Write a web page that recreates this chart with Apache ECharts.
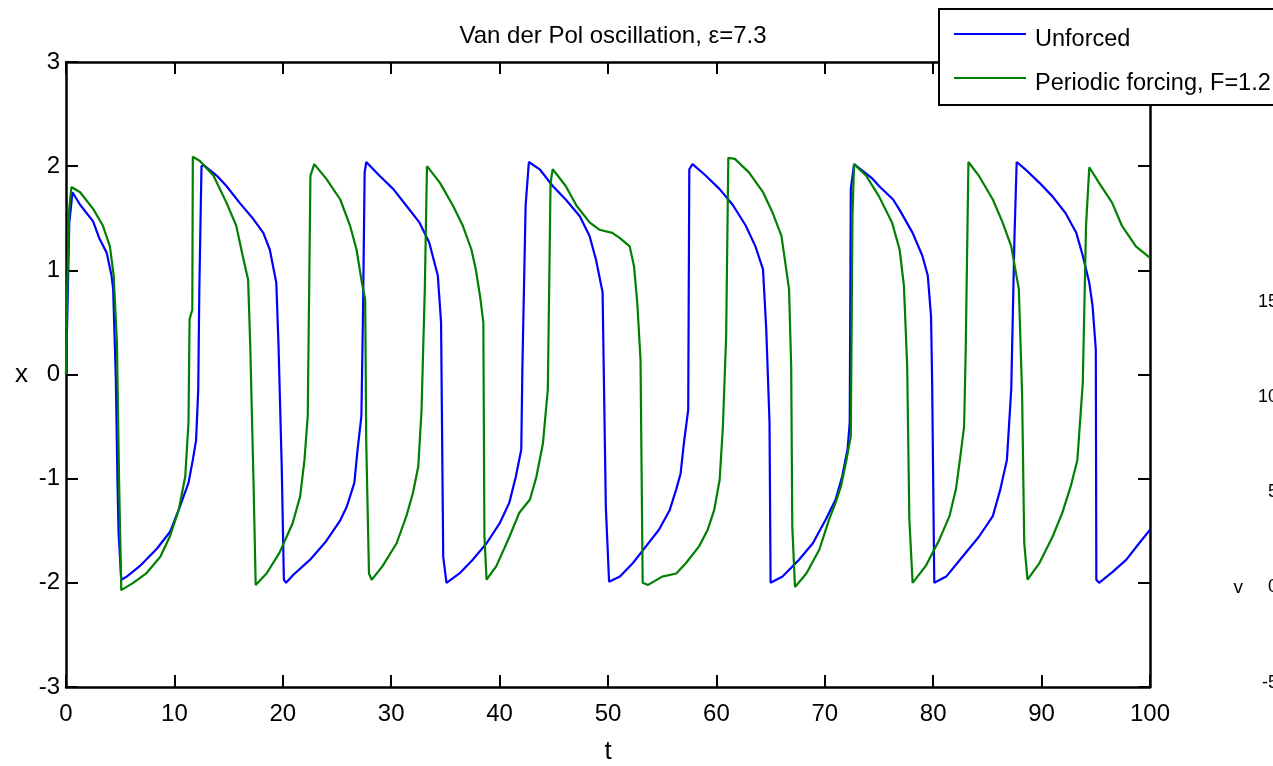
<!DOCTYPE html>
<html>
<head>
<meta charset="utf-8">
<title>Van der Pol oscillation</title>
<script src="https://cdn.jsdelivr.net/npm/echarts@6/dist/echarts.min.js"></script>
<style>
    html, body { margin: 0; padding: 0; background: #fff; }
    #main { width: 1273px; height: 766px; }
</style>
</head>
<body>
<div id="main"></div>
<script>
// unforced oscillator
var tUnforced = [0, 0.15, 0.3, 0.6, 1.3, 2.5, 3.1, 3.75, 4.2, 4.35, 4.6, 4.75, 4.85, 5.1, 5.6, 6.8, 8.4, 9.6, 10.5, 11.3, 11.7, 12.0, 12.2, 12.3, 12.5, 12.7, 13.9, 14.8, 16.0, 17.3, 18.2, 18.8, 19.4, 19.6, 19.9, 20.1, 20.3, 21.0, 22.5, 24.0, 25.3, 25.9, 26.6, 26.9, 27.25, 27.4, 27.55, 27.7, 28.9, 30.2, 31.4, 32.6, 33.5, 34.3, 34.6, 34.8, 35.1, 36.3, 37.5, 38.8, 40.0, 40.9, 41.5, 42.0, 42.1, 42.4, 42.7, 43.7, 44.9, 46.1, 47.4, 48.3, 48.9, 49.5, 49.8, 50.1, 51.1, 52.3, 53.5, 54.7, 55.7, 56.3, 56.7, 57.0, 57.4, 57.5, 57.8, 59.0, 60.3, 61.5, 62.7, 63.6, 64.3, 64.6, 64.9, 65.0, 66.1, 67.6, 68.9, 70.1, 71.0, 71.6, 72.1, 72.3, 72.4, 72.7, 74.4, 75.0, 76.3, 76.9, 78.1, 79.0, 79.5, 79.8, 79.9, 80.1, 81.2, 82.7, 84.2, 85.5, 86.2, 86.8, 87.2, 87.5, 87.7, 88.5, 89.8, 91.0, 92.2, 93.2, 93.8, 94.4, 94.7, 95.0, 95.05, 95.3, 96.5, 97.8, 99.0, 100];
var xUnforced = [0, 0.7, 1.45, 1.75, 1.63, 1.47, 1.30, 1.17, 0.95, 0.82, -0.05, -1.04, -1.52, -1.97, -1.94, -1.84, -1.67, -1.51, -1.27, -1.04, -0.82, -0.63, -0.14, 0.82, 2.0, 2.01, 1.91, 1.81, 1.65, 1.49, 1.36, 1.2, 0.88, 0.3, -0.88, -1.97, -2.0, -1.92, -1.78, -1.6, -1.4, -1.27, -1.04, -0.72, -0.4, 0.6, 1.94, 2.04, 1.91, 1.78, 1.62, 1.46, 1.27, 0.95, 0.5, -1.75, -2.0, -1.91, -1.78, -1.62, -1.43, -1.23, -0.98, -0.72, 0.05, 1.62, 2.04, 1.97, 1.81, 1.68, 1.52, 1.33, 1.1, 0.79, -1.27, -1.99, -1.94, -1.81, -1.65, -1.49, -1.3, -1.1, -0.95, -0.66, -0.34, 1.97, 2.02, 1.91, 1.78, 1.63, 1.43, 1.23, 1.01, 0.43, -0.46, -2.0, -1.94, -1.78, -1.62, -1.39, -1.2, -0.98, -0.72, -0.46, 1.78, 2.02, 1.88, 1.81, 1.68, 1.58, 1.36, 1.14, 0.95, 0.56, -0.05, -2.0, -1.94, -1.75, -1.56, -1.36, -1.1, -0.82, -0.14, 1.33, 2.04, 1.97, 1.84, 1.71, 1.55, 1.36, 1.14, 0.88, 0.66, 0.24, -1.97, -2.0, -1.9, -1.78, -1.62, -1.49];

// periodic forcing, F=1.2
var tForced = [0, 0.1, 0.3, 0.5, 1.3, 2.5, 3.4, 4.05, 4.4, 4.7, 4.9, 5.1, 6.2, 7.4, 8.7, 9.6, 10.4, 11.0, 11.3, 11.4, 11.65, 11.7, 12.35, 13.6, 14.8, 15.7, 16.3, 16.8, 17.0, 17.3, 17.5, 18.5, 19.7, 20.9, 21.6, 22.0, 22.3, 22.55, 22.9, 24.0, 25.3, 26.2, 26.8, 27.25, 27.6, 27.7, 27.95, 28.2, 29.2, 30.5, 31.4, 32.0, 32.5, 32.8, 33.1, 33.3, 34.5, 35.7, 36.6, 37.4, 37.8, 38.2, 38.5, 38.6, 38.8, 39.7, 40.9, 41.8, 42.8, 43.4, 44.0, 44.45, 44.7, 44.9, 46.1, 47.1, 48.3, 49.2, 50.4, 51.1, 52.0, 52.4, 52.7, 53.0, 53.2, 53.7, 55.0, 56.3, 57.2, 58.4, 59.2, 59.8, 60.3, 60.6, 60.9, 61.1, 61.7, 63.0, 64.3, 65.2, 66.0, 66.4, 66.7, 66.9, 67.0, 67.25, 68.3, 69.5, 70.4, 71.0, 71.5, 72.0, 72.4, 72.55, 72.7, 73.8, 75.0, 76.2, 76.9, 77.3, 77.6, 77.8, 78.1, 79.3, 80.55, 81.5, 82.1, 82.5, 82.85, 83.0, 83.25, 84.2, 85.5, 86.4, 87.2, 87.9, 88.2, 88.4, 88.7, 89.8, 91.0, 91.9, 92.7, 93.3, 93.8, 94.1, 94.4, 95.3, 96.5, 97.4, 98.7, 100];
var xForced = [0, 0.77, 1.59, 1.80, 1.75, 1.59, 1.43, 1.23, 0.95, 0.3, -1.04, -2.07, -2.0, -1.91, -1.75, -1.55, -1.3, -0.98, -0.46, 0.53, 0.62, 2.09, 2.05, 1.91, 1.65, 1.43, 1.14, 0.91, 0.27, -1.04, -2.02, -1.91, -1.71, -1.43, -1.17, -0.82, -0.4, 1.91, 2.02, 1.88, 1.68, 1.43, 1.2, 0.91, 0.72, -0.66, -1.91, -1.97, -1.84, -1.62, -1.36, -1.14, -0.88, -0.34, 0.82, 2.0, 1.84, 1.62, 1.43, 1.2, 1.01, 0.75, 0.5, -1.55, -1.97, -1.84, -1.56, -1.33, -1.2, -0.98, -0.66, -0.14, 1.84, 1.97, 1.81, 1.62, 1.46, 1.39, 1.36, 1.31, 1.23, 1.04, 0.69, 0.14, -2.0, -2.02, -1.94, -1.91, -1.81, -1.65, -1.49, -1.3, -1.01, -0.5, 0.37, 2.08, 2.07, 1.94, 1.75, 1.55, 1.33, 1.04, 0.82, 0.08, -1.46, -2.04, -1.91, -1.68, -1.39, -1.23, -1.07, -0.82, -0.59, 1.52, 2.02, 1.91, 1.71, 1.46, 1.2, 0.85, 0.08, -1.39, -2.0, -1.84, -1.59, -1.36, -1.1, -0.79, -0.5, 0.24, 2.04, 1.91, 1.68, 1.46, 1.23, 0.82, -0.18, -1.62, -1.97, -1.81, -1.56, -1.33, -1.07, -0.82, -0.08, 1.43, 1.99, 1.84, 1.65, 1.43, 1.23, 1.12];

var seriesNames = ['Unforced', 'Periodic forcing, F=1.2'];
var xTicks = { min: 0, max: 100, interval: 10 };
var yTicks = { min: -3, max: 3, interval: 1 };
// the neighbouring subplot (v) only shows its tick labels at the right edge
var vTicks = { min: -15, max: 15, interval: 5 };

var font = "'Liberation Sans', Arial, Helvetica, sans-serif";

function zip(ts, xs) {
    return ts.map(function (t, i) { return [t, xs[i]]; });
}

var chart = echarts.init(document.getElementById('main'), null, { renderer: 'canvas' });

var boxLine = { show: true, onZero: false, lineStyle: { color: '#000', width: 2.5 } };
var boxTick = { show: true, inside: true, length: 12, lineStyle: { color: '#000', width: 2 } };

var option = {
    animation: false,
    backgroundColor: '#fff',
    textStyle: { fontFamily: font, color: '#000' },
    title: {
        text: 'Van der Pol oscillation, ε=7.3',
        left: 608,
        top: 19,
        textAlign: 'center',
        textStyle: { fontFamily: font, fontSize: 24, fontWeight: 'normal', color: '#000' }
    },
    legend: {
        data: seriesNames,
        orient: 'vertical',
        left: 939,
        top: 9,
        padding: [13, 30, 9, 14],
        itemWidth: 72,
        itemHeight: 30,
        itemGap: 14,
        selectedMode: false,
        backgroundColor: '#fff',
        borderColor: '#000',
        borderWidth: 2,
        borderRadius: 0,
        z: 10,
        itemStyle: { opacity: 0 },
        lineStyle: { width: 2 },
        // matlab draws the legend text a little below its line sample
        formatter: function (name) {
            return '{lab|' + name + '}';
        },
        textStyle: {
            fontFamily: font, fontSize: 23.5, color: '#000',
            rich: {
                lab: { fontFamily: font, fontSize: 23.5, color: '#000', padding: [12, 0, 0, 4] }
            }
        }
    },
    grid: [
        { left: 66, right: 123, top: 62, bottom: 79, outerBoundsMode: 'none' },
        { left: 1286, width: 40, top: 302, height: 571, outerBoundsMode: 'none' }
    ],
    xAxis: [
        {
            type: 'value', gridIndex: 0, position: 'bottom',
            min: xTicks.min, max: xTicks.max, interval: xTicks.interval,
            name: 't', nameLocation: 'middle', nameGap: 52,
            nameTextStyle: { fontFamily: font, fontSize: 26, color: '#000' },
            axisLine: boxLine, axisTick: boxTick, splitLine: { show: false },
            axisLabel: { fontFamily: font, fontSize: 24, color: '#000', margin: 15 }
        },
        {
            type: 'value', gridIndex: 0, position: 'top',
            min: xTicks.min, max: xTicks.max, interval: xTicks.interval,
            axisLine: boxLine, axisTick: boxTick, splitLine: { show: false },
            axisLabel: { show: false }
        },
        { type: 'value', gridIndex: 1, show: false, min: 0, max: 1 }
    ],
    yAxis: [
        {
            type: 'value', gridIndex: 0, position: 'left',
            min: yTicks.min, max: yTicks.max, interval: yTicks.interval,
            name: 'x', nameLocation: 'middle', nameGap: 38, nameRotate: 0,
            nameTextStyle: { fontFamily: font, fontSize: 26, color: '#000' },
            axisLine: boxLine, axisTick: boxTick, splitLine: { show: false },
            axisLabel: { fontFamily: font, fontSize: 24, color: '#000', margin: 6 }
        },
        {
            type: 'value', gridIndex: 0, position: 'right',
            min: yTicks.min, max: yTicks.max, interval: yTicks.interval,
            axisLine: boxLine, axisTick: boxTick, splitLine: { show: false },
            axisLabel: { show: false }
        },
        {
            type: 'value', gridIndex: 1, position: 'left',
            min: vTicks.min, max: vTicks.max, interval: vTicks.interval,
            name: 'v', nameLocation: 'middle', nameGap: 43, nameRotate: 0,
            nameTextStyle: { fontFamily: font, fontSize: 19, color: '#000' },
            axisLine: { show: false }, axisTick: { show: false }, splitLine: { show: false },
            axisLabel: { fontFamily: font, fontSize: 18, color: '#000', margin: 8 }
        }
    ],
    series: [
        {
            name: seriesNames[0],
            type: 'line',
            xAxisIndex: 0,
            yAxisIndex: 0,
            symbol: 'none',
            clip: true,
            lineStyle: { color: '#0000ff', width: 2.2 },
            itemStyle: { color: '#0000ff' },
            data: zip(tUnforced, xUnforced)
        },
        {
            name: seriesNames[1],
            type: 'line',
            xAxisIndex: 0,
            yAxisIndex: 0,
            symbol: 'none',
            clip: true,
            lineStyle: { color: '#008000', width: 2.2 },
            itemStyle: { color: '#008000' },
            data: zip(tForced, xForced)
        }
    ]
};

chart.setOption(option);
</script>
</body>
</html>
